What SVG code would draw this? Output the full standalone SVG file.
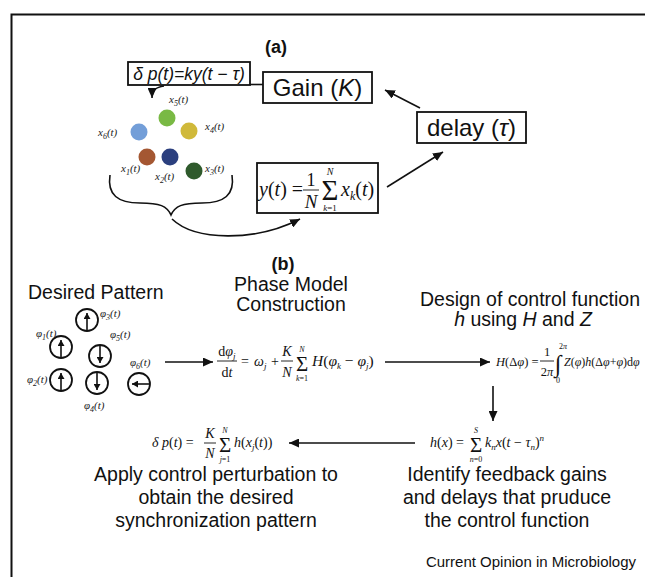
<svg xmlns="http://www.w3.org/2000/svg" width="645" height="577" viewBox="0 0 645 577">
<style>
.sans{font-family:"Liberation Sans",Arial,sans-serif;fill:#111}
.serif{font-family:"Liberation Serif","Times New Roman",serif;fill:#111}
.it{font-style:italic}
.box{fill:#fff;stroke:#111;stroke-width:1.8}
.ln{fill:none;stroke:#111;stroke-width:1.6}
.ph{fill:none;stroke:#111;stroke-width:1.8}
.lab{font-family:"Liberation Serif","Times New Roman",serif;font-style:italic;fill:#222}
.eq{font-family:"Liberation Serif","Times New Roman",serif;fill:#111}
.head{font-family:"Liberation Sans",Arial,sans-serif;font-size:19.5px;fill:#111}
.bar{stroke:#111;stroke-width:0.9}
</style>
<defs>
<marker id="ah" markerUnits="userSpaceOnUse" markerWidth="11" markerHeight="9" refX="10" refY="4.5" orient="auto">
<path d="M0,0 L10,4.5 L0,9 z" fill="#111"/>
</marker>
<marker id="ahs" markerUnits="userSpaceOnUse" markerWidth="7" markerHeight="7" refX="6" refY="3.5" orient="auto">
<path d="M0,0 L6,3.5 L0,7 z" fill="#111"/>
</marker>
</defs>
<rect width="645" height="577" fill="#fff"/>
<path d="M11.5,577 V14.5 H645" fill="none" stroke="#111" stroke-width="2"/>

<!-- Part (a) -->
<text class="sans" x="276" y="53" font-size="18" font-weight="bold" text-anchor="middle">(a)</text>

<g id="dp-box">
<rect class="box" x="128" y="62" width="122" height="23"/>
<text class="sans it" x="189" y="80" font-size="17.5" text-anchor="middle">δ p(t)=ky(t − τ)</text>
</g>
<g id="gain">
<rect class="box" x="263" y="72" width="109" height="31"/>
<text class="sans" x="317.5" y="96" font-size="24" text-anchor="middle">Gain (<tspan class="it">K</tspan>)</text>
</g>
<g id="delay">
<rect class="box" x="417" y="112" width="109" height="31"/>
<text class="sans" x="471.5" y="136" font-size="24" text-anchor="middle">delay (<tspan class="it">τ</tspan>)</text>
</g>
<g id="ybox">
<rect class="box" x="257" y="163" width="121" height="50"/>
<text class="serif" x="259" y="196" font-size="20"><tspan class="it">y</tspan>(<tspan class="it">t</tspan>) =</text>
<text class="serif" x="311" y="186" font-size="18" text-anchor="middle">1</text>
<line class="bar" x1="303" y1="190" x2="319" y2="190"/>
<text class="serif it" x="311" y="208" font-size="19" text-anchor="middle">N</text>
<text class="serif" x="330" y="200" font-size="29" text-anchor="middle">Σ</text>
<text class="serif it" x="330" y="175" font-size="10" text-anchor="middle">N</text>
<text class="serif" x="330" y="211" font-size="9" text-anchor="middle"><tspan class="it">k</tspan>=1</text>
<text class="serif" x="341" y="196" font-size="20"><tspan class="it">x</tspan><tspan class="it" font-size="12" dy="4">k</tspan><tspan dy="-4">(</tspan><tspan class="it">t</tspan>)</text>
</g>

<g id="oscillators" font-size="11">
<circle cx="167" cy="118" r="8.5" fill="#79b944"/>
<circle cx="139" cy="132" r="8.5" fill="#739ed8"/>
<circle cx="189" cy="131" r="8.5" fill="#d0b93a"/>
<circle cx="147" cy="157" r="8.5" fill="#a45732"/>
<circle cx="170" cy="157" r="8.5" fill="#2b3f7e"/>
<circle cx="194" cy="171" r="8.5" fill="#2f5a2c"/>
<text class="lab" x="169" y="103">x<tspan font-size="8" dy="3">5</tspan><tspan dy="-3">(t)</tspan></text>
<text class="lab" x="98" y="136">x<tspan font-size="8" dy="3">6</tspan><tspan dy="-3">(t)</tspan></text>
<text class="lab" x="205" y="130">x<tspan font-size="8" dy="3">4</tspan><tspan dy="-3">(t)</tspan></text>
<text class="lab" x="121" y="172">x<tspan font-size="8" dy="3">1</tspan><tspan dy="-3">(t)</tspan></text>
<text class="lab" x="155" y="180">x<tspan font-size="8" dy="3">2</tspan><tspan dy="-3">(t)</tspan></text>
<text class="lab" x="205" y="172">x<tspan font-size="8" dy="3">3</tspan><tspan dy="-3">(t)</tspan></text>
<path class="ln" d="M110,175 C107,195 118,203 140,203 C160,203 167,206 171,215 C175,206 182,203 202,203 C224,203 235,195 232,175"/>
</g>

<!-- Part (b) -->
<text class="sans" x="283" y="270" font-size="18" font-weight="bold" text-anchor="middle">(b)</text>
<g id="desired" font-size="11">
<text class="head" x="28" y="299">Desired Pattern</text>
<circle class="ph" cx="87" cy="320" r="11"/>
<circle class="ph" cx="61" cy="347" r="11"/>
<circle class="ph" cx="100" cy="356" r="11"/>
<circle class="ph" cx="61" cy="380" r="11"/>
<circle class="ph" cx="97" cy="383" r="11"/>
<circle class="ph" cx="139" cy="384" r="11"/>
<line class="ln" x1="87" y1="331" x2="87" y2="313" marker-end="url(#ahs)"/>
<line class="ln" x1="61" y1="358" x2="61" y2="340" marker-end="url(#ahs)"/>
<line class="ln" x1="100" y1="345" x2="100" y2="363" marker-end="url(#ahs)"/>
<line class="ln" x1="61" y1="391" x2="61" y2="373" marker-end="url(#ahs)"/>
<line class="ln" x1="97" y1="372" x2="97" y2="390" marker-end="url(#ahs)"/>
<line class="ln" x1="150" y1="384" x2="132" y2="384" marker-end="url(#ahs)"/>
<text class="lab" x="100" y="317">φ<tspan font-size="8" dy="3">3</tspan><tspan dy="-3">(t)</tspan></text>
<text class="lab" x="36" y="337">φ<tspan font-size="8" dy="3">1</tspan><tspan dy="-3">(t)</tspan></text>
<text class="lab" x="110" y="338">φ<tspan font-size="8" dy="3">5</tspan><tspan dy="-3">(t)</tspan></text>
<text class="lab" x="27" y="383">φ<tspan font-size="8" dy="3">2</tspan><tspan dy="-3">(t)</tspan></text>
<text class="lab" x="84" y="409">φ<tspan font-size="8" dy="3">4</tspan><tspan dy="-3">(t)</tspan></text>
<text class="lab" x="130" y="366">φ<tspan font-size="8" dy="3">6</tspan><tspan dy="-3">(t)</tspan></text>
</g>

<g id="phase-model" font-size="14">
<text class="head" x="291" y="291" text-anchor="middle">Phase Model</text>
<text class="head" x="291" y="311" text-anchor="middle">Construction</text>
<text class="eq" x="227" y="356" text-anchor="middle">d<tspan class="it">φ</tspan><tspan class="it" font-size="9" dy="3">j</tspan></text>
<line class="bar" x1="217" y1="361" x2="237" y2="361"/>
<text class="eq" x="227" y="377" text-anchor="middle">d<tspan class="it">t</tspan></text>
<text class="eq" x="241" y="366">=</text>
<text class="eq" x="254" y="366"><tspan class="it">ω</tspan><tspan class="it" font-size="9" dy="3">j</tspan></text>
<text class="eq" x="271" y="366">+</text>
<text class="eq it" x="287" y="356" text-anchor="middle">K</text>
<line class="bar" x1="281" y1="361" x2="293" y2="361"/>
<text class="eq it" x="287" y="377" text-anchor="middle">N</text>
<text class="eq" x="302" y="371" font-size="21" text-anchor="middle">Σ</text>
<text class="eq it" x="302" y="352" font-size="8" text-anchor="middle">N</text>
<text class="eq" x="302" y="381" font-size="8" text-anchor="middle"><tspan class="it">k</tspan>=1</text>
<text class="eq" x="312" y="366" font-size="15.5"><tspan class="it">H</tspan>(<tspan class="it">φ</tspan><tspan class="it" font-size="9" dy="3">k</tspan><tspan dy="-3"> − </tspan><tspan class="it">φ</tspan><tspan class="it" font-size="9" dy="3">j</tspan><tspan dy="-3">)</tspan></text>
</g>

<g id="design" font-size="12.5">
<text class="head" x="530" y="306" text-anchor="middle">Design of control function</text>
<text class="head" x="523" y="326" text-anchor="middle"><tspan class="it">h</tspan> using <tspan class="it">H</tspan> and <tspan class="it">Z</tspan></text>
<text class="eq" x="496" y="366"><tspan class="it">H</tspan>(Δ<tspan class="it">φ</tspan>) =</text>
<text class="eq" x="547" y="356" text-anchor="middle">1</text>
<line class="bar" x1="540" y1="361" x2="554" y2="361"/>
<text class="eq" x="547" y="376" text-anchor="middle">2<tspan class="it">π</tspan></text>
<text class="eq it" x="558" y="372" font-size="24" text-anchor="middle">∫</text>
<text class="eq" x="563" y="349" font-size="8" text-anchor="middle">2<tspan class="it">π</tspan></text>
<text class="eq" x="558" y="383" font-size="8" text-anchor="middle">0</text>
<text class="eq" x="564" y="366" font-size="12"><tspan class="it">Z</tspan>(<tspan class="it">φ</tspan>)<tspan class="it">h</tspan>(Δ<tspan class="it">φ</tspan>+<tspan class="it">φ</tspan>)d<tspan class="it">φ</tspan></text>
</g>

<g id="identify" font-size="14">
<text class="eq" x="430" y="447"><tspan class="it">h</tspan>(<tspan class="it">x</tspan>) =</text>
<text class="eq" x="476" y="452" font-size="21" text-anchor="middle">Σ</text>
<text class="eq it" x="476" y="433" font-size="8" text-anchor="middle">S</text>
<text class="eq" x="476" y="462" font-size="8" text-anchor="middle"><tspan class="it">n</tspan>=0</text>
<text class="eq" x="485" y="447"><tspan class="it">k</tspan><tspan class="it" font-size="9" dy="3">n</tspan><tspan class="it" dy="-3">x</tspan>(<tspan class="it">t</tspan> − <tspan class="it">τ</tspan><tspan class="it" font-size="9" dy="3">n</tspan><tspan dy="-3">)</tspan><tspan class="it" font-size="9" dy="-6">n</tspan></text>
<text class="head" x="507" y="481" text-anchor="middle">Identify feedback gains</text>
<text class="head" x="507" y="504" text-anchor="middle">and delays that pruduce</text>
<text class="head" x="507" y="527" text-anchor="middle">the control function</text>
</g>

<g id="apply" font-size="14">
<text class="eq" x="152" y="447"><tspan class="it">δ p</tspan>(<tspan class="it">t</tspan>) =</text>
<text class="eq it" x="210" y="438" text-anchor="middle">K</text>
<line class="bar" x1="204" y1="443" x2="216" y2="443"/>
<text class="eq it" x="210" y="458" text-anchor="middle">N</text>
<text class="eq" x="225" y="452" font-size="21" text-anchor="middle">Σ</text>
<text class="eq it" x="225" y="433" font-size="8" text-anchor="middle">N</text>
<text class="eq" x="225" y="462" font-size="8" text-anchor="middle"><tspan class="it">j</tspan>=1</text>
<text class="eq" x="234" y="447"><tspan class="it">h</tspan>(<tspan class="it">x</tspan><tspan class="it" font-size="9" dy="3">j</tspan><tspan dy="-3">(</tspan><tspan class="it">t</tspan>))</text>
<text class="head" x="216" y="481" text-anchor="middle">Apply control perturbation to</text>
<text class="head" x="216" y="504" text-anchor="middle">obtain the desired</text>
<text class="head" x="216" y="527" text-anchor="middle">synchronization pattern</text>
</g>

<text class="sans" x="636" y="567" font-size="15" text-anchor="end">Current Opinion in Microbiology</text>

<g id="connectors">
<line class="ln" x1="250" y1="84.5" x2="263" y2="84.5"/>
<path class="ln" d="M164,86 C156,87 152,90 152,98" marker-end="url(#ah)"/>
<path class="ln" d="M172,219 C195,241 255,242 300,219" marker-end="url(#ah)"/>
<line class="ln" x1="387" y1="187" x2="443" y2="152" marker-end="url(#ah)"/>
<line class="ln" x1="420" y1="108" x2="385" y2="90" marker-end="url(#ah)"/>
<line class="ln" x1="165" y1="362" x2="213" y2="362" marker-end="url(#ah)"/>
<line class="ln" x1="385" y1="362" x2="490" y2="362" marker-end="url(#ah)"/>
<line class="ln" x1="493" y1="386" x2="493" y2="421" marker-end="url(#ah)"/>
<line class="ln" x1="415" y1="443" x2="289" y2="443" marker-end="url(#ah)"/>
</g>
</svg>
